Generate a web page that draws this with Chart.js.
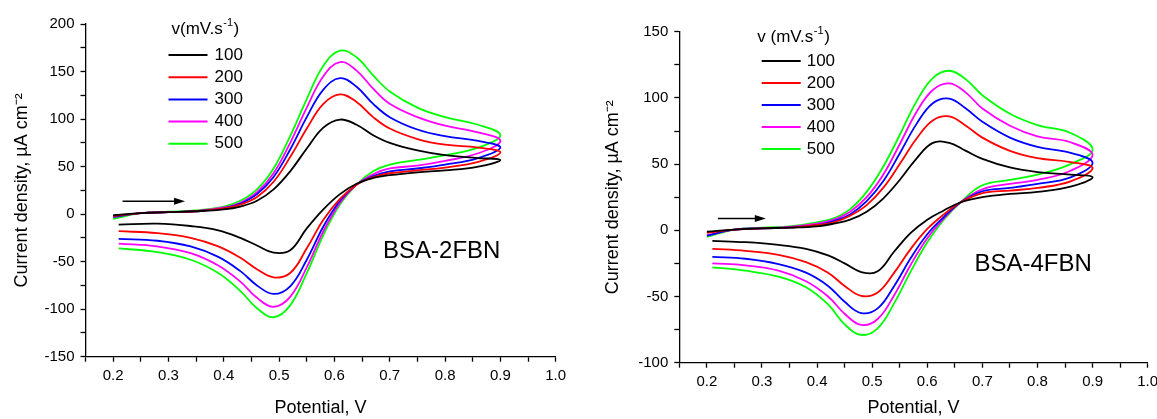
<!DOCTYPE html>
<html lang="en">
<head>
<meta charset="UTF-8">
<title>Cyclic voltammograms of BSA-2FBN and BSA-4FBN</title>
<script src="https://cdn.jsdelivr.net/npm/chart.js"></script>
<style>
    html, body { margin: 0; padding: 0; background: #fff; overflow: hidden; width: 1157px; height: 419px; }
    canvas { position: absolute; top: 0; }
    #cvLeft { left: 0; }
    #cvRight { left: 590px; }
</style>
</head>
<body>
<canvas id="cvLeft" width="580" height="419"></canvas>
<canvas id="cvRight" width="600" height="419"></canvas>
<script>
    // scan rates (mV/s) and their colours
    const scanRates = ['100', '200', '300', '400', '500'];
    const lineColors = ['#000000', '#ff0000', '#0000ff', '#ff00ff', '#00ff00'];

    // ---- BSA-2FBN (left) ----
    const fwdE2 = [0.2, 0.25, 0.3, 0.35, 0.4, 0.43, 0.46, 0.49, 0.52, 0.55, 0.58, 0.61, 0.64, 0.67, 0.7, 0.75, 0.8, 0.86, 0.9];
    const revE2 = [0.86, 0.8, 0.75, 0.7, 0.67, 0.64, 0.61, 0.58, 0.55, 0.52, 0.49, 0.46, 0.43, 0.39, 0.34, 0.28, 0.21];

    const fwd2_100 = [-1, 1, 2, 3, 5, 8, 14, 26, 45, 69, 91, 99.5, 94, 83, 75, 67, 62, 59, 57];
    const fwd2_200 = [-2, 1, 2, 3, 6, 10, 18, 34, 60, 90, 116, 126, 118, 102, 90, 79, 73, 70, 65];
    const fwd2_300 = [-3, 1, 2, 3, 6, 11, 21, 39, 68, 102, 131, 143, 134, 116, 102, 89, 82, 77, 70];
    const fwd2_400 = [-3, 1, 2, 3.5, 7, 12, 23, 43, 75, 112, 145, 160, 151, 132, 116, 102, 93, 86, 77];
    const fwd2_500 = [-5, 1, 2.5, 4, 8, 14, 26, 48, 82, 121, 156, 172, 165, 146, 129, 112, 102, 94, 83];

    const rev2_100 = [50, 46, 44, 41, 38, 32, 21, 5, -15, -38, -40.5, -33, -25, -17, -12.5, -10, -11];
    const rev2_200 = [55, 49, 46, 43, 39, 31, 16, -6, -36, -62, -66.5, -58, -46, -34, -25, -20, -18];
    const rev2_300 = [59, 52, 48, 45, 40, 31, 14, -13, -48, -76, -84, -75, -60, -45, -34, -28, -26];
    const rev2_400 = [64, 56, 51, 48, 42, 31, 12, -18, -56, -87, -97.5, -88, -71, -54, -41, -34, -31];
    const rev2_500 = [70, 62, 57, 52, 45, 31, 10, -22, -62, -96, -108.5, -99, -81, -62, -48, -40, -36];

    // ---- BSA-4FBN (right) ----
    const fwdE4 = [0.2, 0.25, 0.3, 0.35, 0.4, 0.43, 0.46, 0.49, 0.52, 0.55, 0.58, 0.61, 0.64, 0.67, 0.7, 0.75, 0.8, 0.86, 0.9];
    const revE4 = [0.86, 0.8, 0.75, 0.7, 0.66, 0.63, 0.6, 0.57, 0.54, 0.51, 0.48, 0.45, 0.42, 0.38, 0.33, 0.27, 0.21];

    const fwd4_100 = [-1, 0.5, 1.5, 2, 3, 5, 8, 14, 24, 38, 54, 66, 66, 60, 54, 47.5, 44, 42, 40];
    const fwd4_200 = [-2, 0.5, 1.5, 2, 4, 6, 11, 19, 32, 50, 69, 83, 86, 79, 70, 60, 54.5, 51.5, 47];
    const fwd4_300 = [-4, 0.5, 1.5, 2, 4, 7, 12, 22, 37, 58, 80, 96, 99.5, 92, 82, 70, 63, 58.5, 51];
    const fwd4_400 = [-4, 0.5, 1.5, 2.5, 5, 8, 14, 25, 42, 65, 89, 106, 111, 104, 92, 79, 71, 66.5, 57];
    const fwd4_500 = [-5, 0.5, 2, 3, 6, 9, 16, 29, 48, 72, 97, 115, 120.5, 114, 102, 88, 79.5, 73.5, 61];

    const rev4_100 = [33, 29, 27.5, 25, 21, 15, 8, -2, -16, -31, -31.5, -25, -19, -14, -11, -9, -8];
    const rev4_200 = [37, 32, 30, 28, 21, 12, 1, -14, -32, -47, -49.5, -42, -32, -24, -18.5, -15.5, -14];
    const rev4_300 = [40, 35, 32, 29.5, 21, 10, -3, -21, -42, -59, -62.5, -54, -42, -32, -25.5, -21.5, -20];
    const rev4_400 = [45, 38, 35, 31, 21, 9, -6, -26, -49, -67, -71.5, -63, -50, -38.5, -30.5, -26.5, -25];
    const rev4_500 = [50, 42, 38, 34, 21, 8, -9, -31, -55, -74, -79, -71, -56, -43, -35, -30.5, -28];

    // scan direction arrows [x start, x end, y] and sample label positions [x, y]
    const arrow2 = [0.217, 0.33, 13.5];
    const arrow4 = [0.22, 0.307, 8.9];
    const label2 = [0.794, -39];
    const label4 = [0.792, -25.5];

    const FONT = "'Liberation Sans', Arial, sans-serif";
    Chart.defaults.font.family = FONT;
    Chart.defaults.color = '#000';

    function loop(fx, fy, rx, ry) {
        const pts = fx.map((x, i) => ({x: x, y: fy[i]}));
        return pts.concat(rx.map((x, i) => ({x: x, y: ry[i]})));
    }

    function makeDatasets(fx, rx, fwd, rev) {
        return scanRates.map((r, i) => ({
            label: r,
            data: loop(fx, fwd[i], rx, rev[i]),
            showLine: true,
            borderColor: lineColors[i],
            backgroundColor: lineColors[i],
            borderWidth: 1.8,
            pointRadius: 0,
            tension: 0.4,
            fill: false
        }));
    }

    // arrow, sample name and the legend drawn inside the plot
    const decorations = {
        id: 'decorations',
        afterDatasetsDraw(chart, args, o) {
            const {ctx, chartArea: ca, scales: {x, y}} = chart;
            ctx.save();

            // arrow
            const x0 = x.getPixelForValue(o.arrow[0]);
            const x1 = x.getPixelForValue(o.arrow[1]);
            const ya = y.getPixelForValue(o.arrow[2]);
            ctx.strokeStyle = '#000';
            ctx.fillStyle = '#000';
            ctx.lineWidth = 1.6;
            ctx.beginPath();
            ctx.moveTo(x0, ya);
            ctx.lineTo(x1 - 8, ya);
            ctx.stroke();
            ctx.beginPath();
            ctx.moveTo(x1, ya);
            ctx.lineTo(x1 - 11, ya - 3.5);
            ctx.lineTo(x1 - 11, ya + 3.5);
            ctx.closePath();
            ctx.fill();

            // sample name
            ctx.font = '24px ' + FONT;
            ctx.textAlign = 'center';
            ctx.textBaseline = 'middle';
            ctx.fillText(o.sample, x.getPixelForValue(o.samplePos[0]), y.getPixelForValue(o.samplePos[1]));

            // legend title with superscript
            ctx.textAlign = 'left';
            ctx.font = '17px ' + FONT;
            let tx = ca.left + o.titleDx;
            const ty = ca.top + o.titleDy;
            ctx.fillText(o.title, tx, ty);
            tx += ctx.measureText(o.title).width + 0.5;
            ctx.font = '11px ' + FONT;
            ctx.fillText('-1', tx, ty - 6);
            tx += ctx.measureText('-1').width + 0.5;
            ctx.font = '17px ' + FONT;
            ctx.fillText(')', tx, ty);

            // legend rows
            chart.data.datasets.forEach((ds, i) => {
                const ry = ca.top + o.rowDy + i * o.rowStep;
                ctx.strokeStyle = ds.borderColor;
                ctx.lineWidth = 2;
                ctx.beginPath();
                ctx.moveTo(ca.left + o.lineDx, ry);
                ctx.lineTo(ca.left + o.lineDx + 39, ry);
                ctx.stroke();
                ctx.fillStyle = '#000';
                ctx.fillText(ds.label, ca.left + o.textDx, ry);
            });
            ctx.restore();
        }
    };

    function axes(yMin, yMax, yWidth, xHeight, yTitlePad) {
        return {
            x: {
                type: 'linear',
                min: 0.15,
                max: 1.0,
                border: {display: true, color: '#000', width: 1.3},
                grid: {display: true, drawOnChartArea: false, drawTicks: true, tickLength: 5, color: '#000', tickWidth: 1.3},
                ticks: {
                    stepSize: 0.05,
                    autoSkip: false,
                    maxRotation: 0,
                    padding: 5,
                    font: {size: 15},
                    callback: v => Math.round(v * 100) % 10 === 0 ? v.toFixed(1) : ''
                },
                title: {display: true, text: 'Potential, V', font: {size: 18}, padding: {top: 0, bottom: 0}},
                afterFit: s => { s.height = xHeight; }
            },
            y: {
                type: 'linear',
                min: yMin,
                max: yMax,
                border: {display: true, color: '#000', width: 1.3},
                grid: {display: true, drawOnChartArea: false, drawTicks: true, tickLength: 5, color: '#000', tickWidth: 1.3},
                ticks: {
                    stepSize: 25,
                    autoSkip: false,
                    padding: 6,
                    font: {size: 15},
                    callback: v => v % 50 === 0 ? String(v) : ''
                },
                title: {display: true, text: 'Current density, \u00B5A cm\u207B\u00B2', font: {size: 18}, padding: {top: yTitlePad, bottom: 0}},
                afterFit: s => { s.width = yWidth; }
            }
        };
    }

    new Chart(document.getElementById('cvLeft'), {
        type: 'scatter',
        data: {datasets: makeDatasets(fwdE2, revE2,
            [fwd2_100, fwd2_200, fwd2_300, fwd2_400, fwd2_500],
            [rev2_100, rev2_200, rev2_300, rev2_400, rev2_500])},
        options: {
            responsive: false,
            animation: false,
            layout: {padding: {left: 0, top: 24, right: 24.3, bottom: 0}},
            scales: axes(-150, 200, 85.5, 62.3, 11),
            plugins: {
                legend: {display: false},
                tooltip: {enabled: false},
                decorations: {
                    arrow: arrow2, sample: 'BSA-2FBN', samplePos: label2,
                    title: 'v(mV.s', titleDx: 86, titleDy: 5,
                    lineDx: 83, textDx: 129, rowDy: 31, rowStep: 22.2
                }
            }
        },
        plugins: [decorations]
    });

    new Chart(document.getElementById('cvRight'), {
        type: 'scatter',
        data: {datasets: makeDatasets(fwdE4, revE4,
            [fwd4_100, fwd4_200, fwd4_300, fwd4_400, fwd4_500],
            [rev4_100, rev4_200, rev4_300, rev4_400, rev4_500])},
        options: {
            responsive: false,
            animation: false,
            layout: {padding: {left: 0, top: 31.7, right: 42.3, bottom: 0}},
            scales: axes(-100, 150, 89.3, 56.3, 12),
            plugins: {
                legend: {display: false},
                tooltip: {enabled: false},
                decorations: {
                    arrow: arrow4, sample: 'BSA-4FBN', samplePos: label4,
                    title: 'v (mV.s', titleDx: 78, titleDy: 5.6,
                    lineDx: 82.4, textDx: 127.4, rowDy: 29.3, rowStep: 22
                }
            }
        },
        plugins: [decorations]
    });
</script>
</body>
</html>
